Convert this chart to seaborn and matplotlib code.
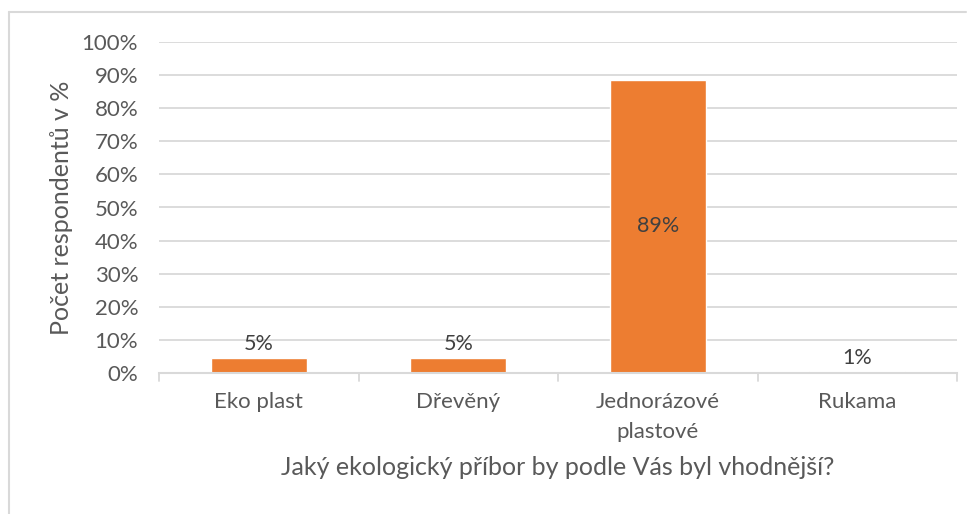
import math
import matplotlib
matplotlib.use("Agg")
import matplotlib.pyplot as plt
import seaborn as sns
import pandas as pd
from matplotlib.ticker import FuncFormatter

categories = ["Eko plast", "Dřevěný", "Jednorázové\nplastové", "Rukama"]
shares = [4.6, 4.6, 88.6, 0.5]
y_ticks = [0, 10, 20, 30, 40, 50, 60, 70, 80, 90, 100]

x_title = "Jaký ekologický příbor by podle Vás byl vhodnější?"
y_title = "Počet respondentů v %"

sns.set_theme(style="white")
plt.rcParams["font.family"] = ["Lato", "DejaVu Sans"]

df = pd.DataFrame({"kategorie": categories, "podil": shares})

fig = plt.figure(figsize=(9.67, 5.14), dpi=100)
ax = fig.add_axes([159 / 967, 1 - 373 / 514, (957 - 159) / 967, (373 - 42) / 514])

bar_color = "#ED7D31"
text_color = "#595959"
grid_color = "#D9D9D9"

sns.barplot(data=df, x="kategorie", y="podil", color=bar_color, saturation=1,
            width=0.48, ax=ax, zorder=2)

ax.set_ylim(0, 100)
ax.set_xlim(-0.5, len(categories) - 0.5)
ax.set_yticks(y_ticks)
ax.yaxis.set_major_formatter(FuncFormatter(lambda v, _: f"{int(v)}%"))
ax.grid(axis="y", color=grid_color, linewidth=1.3, zorder=0)
ax.set_axisbelow(True)

for side in ["top", "right", "left"]:
    ax.spines[side].set_visible(False)
ax.spines["bottom"].set_color(grid_color)
ax.spines["bottom"].set_linewidth(1.5)
ax.spines["bottom"].set_zorder(5)

ax.tick_params(axis="y", length=0, pad=15, labelsize=16, labelcolor=text_color)
ax.tick_params(axis="x", length=0, pad=14, labelsize=16, labelcolor=text_color)
for lbl in ax.get_xticklabels():
    lbl.set_linespacing(1.6)

# category separators below the baseline
for xb in [-0.5, 0.5, 1.5, 2.5, 3.5]:
    ax.plot([xb, xb], [0, -2.3], color=grid_color, linewidth=1.3,
            clip_on=False, zorder=5)

ax.set_xlabel(x_title, fontsize=18, color=text_color, labelpad=10)
ax.set_ylabel(y_title, fontsize=18, color=text_color, labelpad=6)

# value labels
for i, v in enumerate(shares):
    label = f"{math.floor(v + 0.5)}%"
    if v > 20:
        ax.text(i, v / 2, label, ha="center", va="center",
                fontsize=15.5, color="#404040", zorder=6)
    else:
        ax.text(i, v + 1.0, label, ha="center", va="bottom",
                fontsize=15.5, color="#404040", zorder=6)

# chart frame
fig.add_artist(plt.Line2D([9 / 967, 966 / 967], [1 - 12 / 514, 1 - 12 / 514],
                          color=grid_color, linewidth=1.5))
fig.add_artist(plt.Line2D([9 / 967, 9 / 967], [0, 1 - 12 / 514],
                          color=grid_color, linewidth=1.5))

fig.savefig("out.png", dpi=100)
